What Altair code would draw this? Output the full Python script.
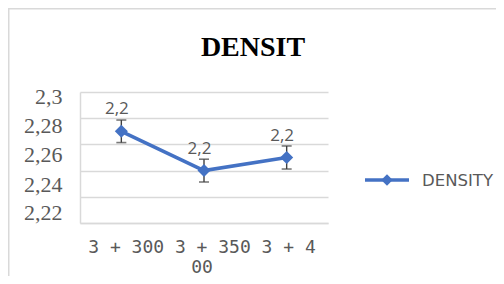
import altair as alt
import pandas as pd

categories = ["3 + 300", "3 + 350", "3 + 400"]
density = [2.27, 2.24, 2.25]
errors = [0.0086, 0.0087, 0.0088]
series_name = "DENSITY"
title_text = "DENSIT"
y_ticks = [2.2, 2.22, 2.24, 2.26, 2.28, 2.3]

df = pd.DataFrame({"cat": categories, "v": density, "e": errors})
df["lo"] = df["v"] - df["e"]
df["hi"] = df["v"] + df["e"]

full = " ".join(categories)
x_text = full[:21] + "\n" + full[21:]

W, H = 248, 131
BLUE = "#4472C4"
GRAY = "#595959"
GRID = "#d9d9d9"

x_enc = alt.X("cat:N", sort=categories,
              scale=alt.Scale(type="point", padding=0.5),
              axis=alt.Axis(labels=False, ticks=False, title=None, grid=False,
                            domainColor=GRID, domainWidth=1.5))
y_scale = alt.Scale(domain=[2.2, 2.3], nice=False, zero=False)

label_offset = {
    "condition": [
        {"test": "abs(datum.value - 2.3) < 0.001", "value": 4},
        {"test": "abs(datum.value - 2.28) < 0.001", "value": 7},
        {"test": "abs(datum.value - 2.26) < 0.001", "value": 10},
        {"test": "abs(datum.value - 2.24) < 0.001", "value": 14},
    ],
    "value": 16,
}

y_axis = alt.Axis(values=y_ticks, grid=True, title=None,
                  labelOffset=label_offset,
                  labelExpr="datum.value < 2.21 ? '' : replace(format(datum.value, '.3~g'), '.', ',')")

def Y(field):
    return alt.Y(field, scale=y_scale, axis=y_axis)

base = alt.Chart(df)

one = pd.DataFrame({"a": [0]})

border = alt.Chart(one).mark_rect(fillOpacity=0, stroke=GRID, strokeWidth=2).encode(
    x=alt.value(-71.5), x2=alt.value(700), y=alt.value(-83.5), y2=alt.value(500))

line = base.mark_line(color=BLUE, strokeWidth=3.5).encode(x=x_enc, y=Y("v:Q"))

err = base.mark_rule(color="#404040", strokeWidth=1.4).encode(
    x=x_enc, y=Y("lo:Q"), y2="hi:Q")

cap_lo = base.mark_tick(color="#404040", thickness=1.6, size=10, orient="horizontal").encode(
    x=x_enc, y=Y("lo:Q"))
cap_hi = base.mark_tick(color="#404040", thickness=1.6, size=10, orient="horizontal").encode(
    x=x_enc, y=Y("hi:Q"))

pts = base.mark_point(shape="diamond", filled=True, size=170, color=BLUE, opacity=1).encode(
    x=x_enc, y=Y("v:Q"))

lbls = base.transform_calculate(
    lbl="replace(format(floor(datum.v * 10) / 10, '.1f'), '.', ',')"
).mark_text(dy=-17, dx=-4.5, baseline="alphabetic", font="Open Sans",
            fontSize=17, color=GRAY).encode(
    x=x_enc, y=Y("v:Q"), text="lbl:N")

xlab = alt.Chart(pd.DataFrame({"t": [x_text]})).mark_text(
    lineBreak="\n", lineHeight=20, font="DejaVu Sans Mono", fontSize=18,
    color=GRAY, baseline="alphabetic", align="center").encode(
    x=alt.value(122), y=alt.value(H + 30), text="t:N")

title = alt.Chart(pd.DataFrame({"t": [title_text]})).mark_text(
    font="Liberation Serif", fontWeight="bold", fontSize=28, color="black",
    baseline="alphabetic", align="center").encode(
    x=alt.value(173), y=alt.value(-36), text="t:N")

leg_line = alt.Chart(one).mark_rule(color=BLUE, strokeWidth=3.5).encode(
    x=alt.value(285), x2=alt.value(329), y=alt.value(88))
leg_pt = alt.Chart(one).mark_point(shape="diamond", filled=True, size=130, color=BLUE, opacity=1).encode(
    x=alt.value(307), y=alt.value(88))
leg_txt = alt.Chart(pd.DataFrame({"t": [series_name]})).mark_text(
    font="DejaVu Sans", fontSize=16.5, color=GRAY, align="left", baseline="alphabetic").encode(
    x=alt.value(342), y=alt.value(94), text="t:N")

chart = alt.layer(border, line, err, cap_lo, cap_hi, pts, lbls, xlab, title,
                  leg_line, leg_pt, leg_txt).properties(
    width=W, height=H,
    padding={"left": 72, "top": 84, "right": 168, "bottom": 53},
    autosize="none", background="white"
).configure_view(stroke=None).configure_axisY(
    gridColor=GRID, gridWidth=1.3, ticks=False, domain=True, domainColor=GRID,
    domainWidth=1.5, labelFont="Liberation Serif", labelFontSize=22,
    labelColor=GRAY, labelPadding=18, labelBaseline="middle",
    labelOverlap=False, labelFlush=False)

chart.save("out.html", embed_options={"renderer": "svg", "actions": False})
